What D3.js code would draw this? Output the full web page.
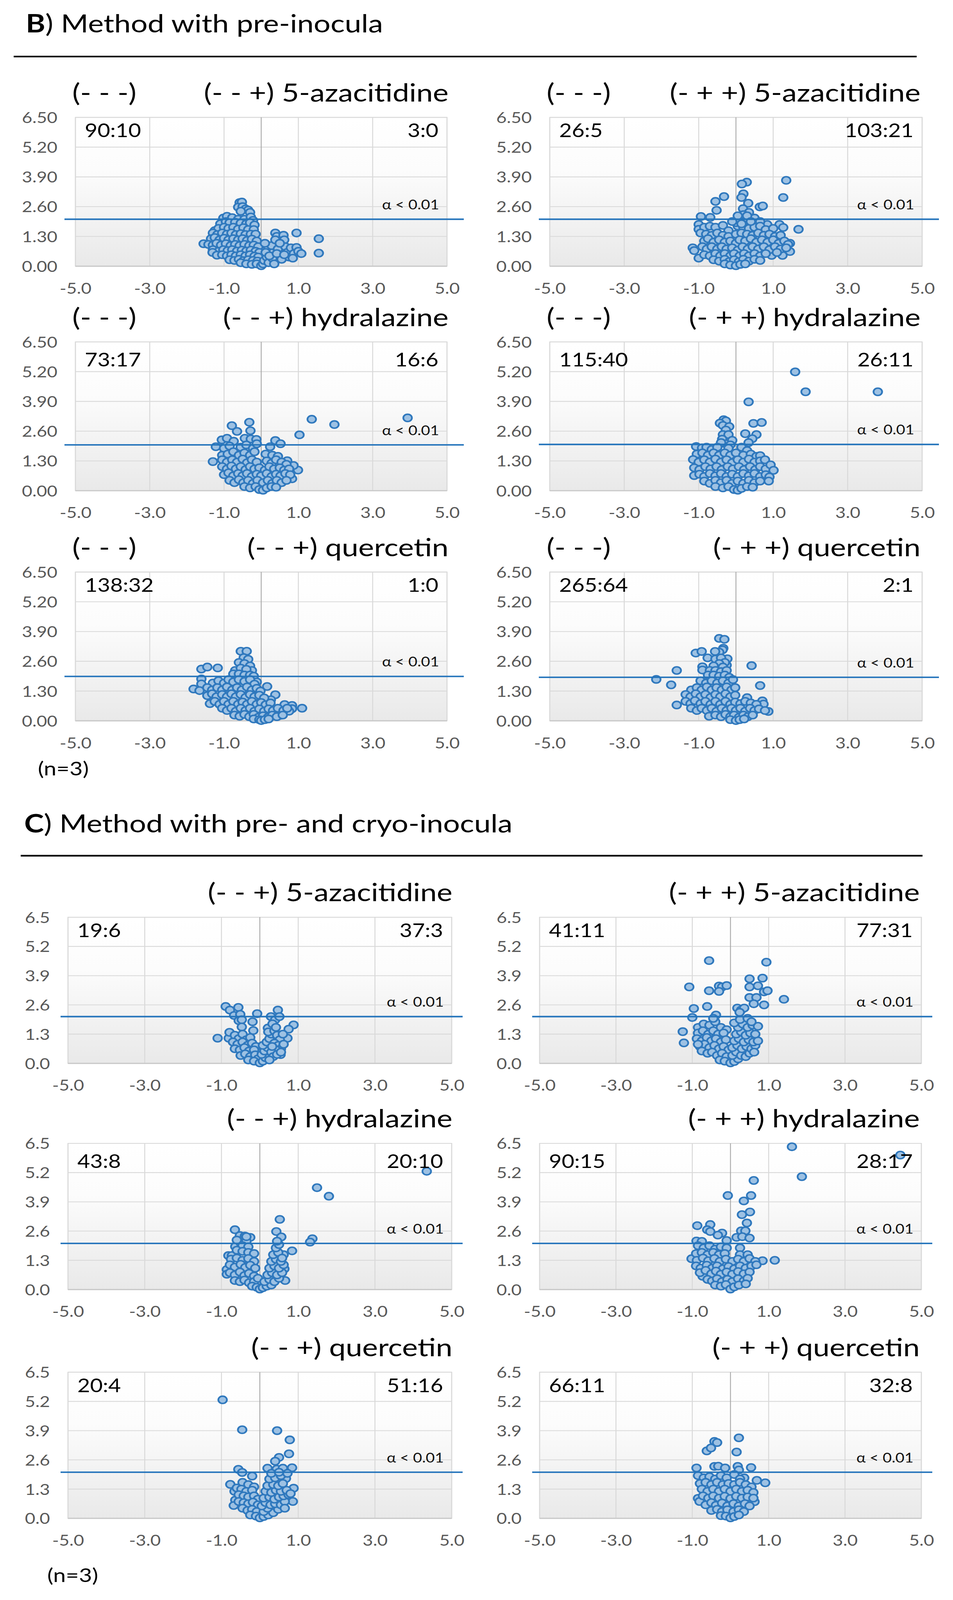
<!DOCTYPE html>
<html><head><meta charset="utf-8">
<script src="https://cdnjs.cloudflare.com/ajax/libs/d3/7.8.5/d3.min.js"></script>
<style>html,body{margin:0;padding:0;background:#fff;overflow:hidden}svg{display:block}</style>
</head><body>
<script>
// ---------------- DATA ----------------
const xTicks = [-5, -3, -1, 1, 3, 5];
const yTicks = [0, 1.3, 2.6, 3.9, 5.2, 6.5];
const sectionLetters = ["B", "C"];
const sectionTitles = [") Method with pre-inocula", ") Method with pre- and cryo-inocula"];
const baseLabel = "(- - -)";
const headers = ["(- - +) 5-azacitidine", "(- + +) 5-azacitidine", "(- - +) hydralazine", "(- + +) hydralazine", "(- - +) quercetin", "(- + +) quercetin"];
const countsB = [["90:10", "3:0"], ["26:5", "103:21"], ["73:17", "16:6"], ["115:40", "26:11"], ["138:32", "1:0"], ["265:64", "2:1"]];
const countsC = [["19:6", "37:3"], ["41:11", "77:31"], ["43:8", "20:10"], ["90:15", "28:17"], ["20:4", "51:16"], ["66:11", "32:8"]];
const alphaB = [2.05, 2.05, 2.0, 2.02, 1.94, 1.9];
const alphaC = [2.08, 2.08, 2.05, 2.05, 2.05, 2.05];
const alphaText = "α < 0.01";
const nText = "(n=3)";

// B) pre-inocula
const ptsB1L = [[-0.58,2.78],[-0.52,2.8],[-0.62,2.58],[-0.5,2.6],[-0.42,2.5],[-0.35,2.45],[-0.55,2.4],[-0.3,2.35],
[-1.02,2.1],[-0.92,2.18],[-0.78,2.12],[-0.62,2.05],[-0.45,2.05],[-0.28,2.15],[-0.22,2.0],
[-1.1,1.85],[-0.95,1.95],[-0.85,1.9],[-0.7,1.92],[-0.55,1.88],[-0.4,1.85],[-0.3,1.9],[-0.18,1.8],
[-1.25,1.55],[-1.15,1.65],[-1.0,1.7],[-0.88,1.65],[-0.75,1.7],[-0.62,1.62],[-0.48,1.68],[-0.35,1.6],[-0.2,1.6],
[-1.3,1.45],[-1.18,1.38],[-1.05,1.45],[-0.92,1.4],[-0.8,1.45],[-0.68,1.38],[-0.55,1.42],[-0.42,1.38],[-0.28,1.4],[-0.15,1.4],
[-1.35,1.2],[-1.25,1.25],[-1.12,1.15],[-1.0,1.22],[-0.88,1.15],[-0.75,1.2],[-0.62,1.15],[-0.5,1.2],[-0.38,1.12],[-0.25,1.18],[-0.12,1.1],
[-1.55,0.98],[-1.42,0.95],[-1.3,0.92],[-1.2,1.0],[-1.08,0.92],[-0.95,0.98],[-0.82,0.9],[-0.7,0.95],[-0.58,0.9],[-0.45,0.95],[-0.32,0.9],[-0.2,0.92],[-0.08,0.85],
[-1.3,0.72],[-1.15,0.65],[-1.02,0.72],[-0.9,0.68],[-0.78,0.72],[-0.65,0.66],[-0.52,0.7],[-0.4,0.66],[-0.28,0.7],[-0.15,0.65],[-0.05,0.6],
[-1.31,0.6],[-1.19,0.48],[-1.05,0.5],[-0.92,0.45],[-0.8,0.5],[-0.68,0.45],[-0.55,0.5],[-0.42,0.45],[-0.3,0.5],[-0.18,0.44],[-0.08,0.4],
[-0.85,0.28],[-0.72,0.25],[-0.6,0.3],[-0.48,0.24],[-0.35,0.28],[-0.22,0.25],[-0.1,0.22],
[-0.55,0.15],[-0.4,0.1],[-0.25,0.08],[-0.12,0.1],[0,0.02],[0.05,0.1],
[0.08,0.25],[0.15,0.4],[0.2,0.15],[0.25,0.6],[0.3,0.35],[0.35,0.1],[0.18,0.85],[0.28,0.9],[0.38,1.45],[0.42,1.3],[0.38,1.15],[0.45,0.75],[0.5,0.5],[0.55,0.3],
[0.6,1.35],[0.62,1.15],[0.65,0.85],[0.7,0.6],[0.75,0.4],[0.8,0.8],[0.88,0.55],[0.95,1.45],[0.95,0.82],[1.0,0.65],[1.08,0.55],[1.55,1.2],[1.55,0.57],
[0.12,0.6],[0.22,0.45],[0.42,0.55],[0.62,0.5],[0.85,0.35],[0.1,1.0],[0.5,1.0]];

const ptsB1R = [[1.35,3.75],[1.27,3.0],[0.29,3.67],[0.16,3.59],[0.2,3.16],[0.15,3.0],[-0.32,3.04],[-0.55,2.83],[-0.52,2.44],[0.33,2.75],[0.19,2.51],[0.64,2.59],[0.72,2.63],
[-0.94,2.17],[-0.69,2.13],[1.68,1.61],[1.17,1.82],[1.27,1.69],[0.84,1.82],[1.45,1.0],[1.45,0.64],[1.25,0.47],[0.96,0.47],[-1.0,0.35],[-1.16,0.8],[-1.12,0.68],[-1.0,1.82],[-1.0,1.61],
[0.35,2.35],[0.25,2.2],[0.5,2.1],[0.65,1.95],[0.2,1.95],[0.1,2.1],[0.3,1.8],
[-0.85,1.7],[-0.7,1.75],[-0.55,1.7],[-0.35,1.78],[-0.2,1.55],[0.05,1.75],[0.2,1.7],[0.35,1.65],[0.5,1.7],[0.65,1.75],[0.8,1.6],[1.0,1.65],
[-0.95,1.45],[-0.8,1.4],[-0.65,1.35],[-0.5,1.45],[-0.35,1.35],[-0.2,1.3],[0.0,1.4],[0.15,1.45],[0.3,1.4],[0.45,1.35],[0.6,1.45],[0.75,1.35],[0.9,1.4],[1.05,1.3],[1.2,1.35],
[-0.85,1.1],[-0.75,1.2],[-0.6,1.05],[-0.45,1.15],[-0.3,1.05],[-0.15,1.1],[0.0,1.0],[0.1,1.15],[0.25,1.1],[0.4,1.2],[0.55,1.05],[0.7,1.15],[0.85,1.05],[1.0,1.15],[1.15,1.0],[1.3,1.1],[1.4,0.95],
[-0.9,0.85],[-0.78,0.75],[-0.65,0.85],[-0.5,0.75],[-0.38,0.85],[-0.25,0.75],[-0.1,0.8],[0.05,0.7],[0.18,0.85],[0.32,0.75],[0.45,0.85],[0.6,0.75],[0.75,0.85],[0.9,0.72],[1.05,0.85],[1.2,0.75],[1.35,0.8],
[-0.85,0.5],[-0.7,0.45],[-0.55,0.55],[-0.42,0.45],[-0.3,0.55],[-0.15,0.45],[-0.05,0.55],[0.1,0.45],[0.22,0.55],[0.35,0.45],[0.5,0.55],[0.65,0.45],[0.8,0.55],[1.1,0.6],
[-0.6,0.28],[-0.45,0.22],[-0.3,0.3],[-0.18,0.2],[-0.05,0.28],[0.08,0.2],[0.2,0.3],[0.35,0.22],[0.5,0.3],[0.65,0.25],
[-0.3,0.1],[-0.15,0.05],[0,0.02],[0.12,0.08],[0.25,0.1],
[0.0,1.9],[0.1,2.0],[0.2,2.25],[0.3,2.2],[0.15,1.85],[0.05,2.2],[0.4,1.95],[-0.1,1.95]];

const ptsB2L = [[3.94,3.18],[1.36,3.12],[1.97,2.89],[1.03,2.44],[-0.32,2.99],[-0.29,2.62],[-0.79,2.84],[-0.65,2.59],[-1.06,2.22],[-0.92,2.29],[-0.74,2.16],[-0.44,2.29],[-0.28,2.26],[-0.13,2.24],
[-1.22,1.92],[-1.3,1.27],[0.38,2.19],[0.52,2.05],[0.24,1.92],[0.99,0.9],[0.87,1.1],[0.83,0.52],[0.7,1.31],
[-1.0,1.85],[-0.85,1.95],[-0.55,1.9],[-0.4,2.0],[-0.22,1.85],[-0.12,2.05],
[-1.05,1.55],[-0.9,1.6],[-0.75,1.7],[-0.6,1.55],[-0.45,1.65],[-0.3,1.55],[-0.18,1.7],[0.12,1.6],[0.3,1.55],[0.45,1.5],
[-1.05,1.35],[-0.92,1.25],[-0.78,1.35],[-0.65,1.25],[-0.5,1.38],[-0.38,1.22],[-0.25,1.35],[-0.12,1.25],[0.15,1.3],[0.28,1.2],[0.4,1.35],[0.55,1.25],[0.68,1.15],
[-1.05,1.05],[-0.92,0.95],[-0.8,1.08],[-0.68,0.95],[-0.55,1.05],[-0.42,0.92],[-0.3,1.05],[-0.18,0.95],[-0.05,1.0],[0.1,0.9],[0.22,1.05],[0.35,0.95],[0.5,1.0],[0.62,0.9],[0.75,0.95],
[-1.0,0.7],[-0.88,0.78],[-0.75,0.65],[-0.62,0.75],[-0.5,0.65],[-0.38,0.75],[-0.25,0.62],[-0.12,0.72],[0.0,0.65],[0.15,0.75],[0.28,0.62],[0.4,0.72],[0.52,0.65],[0.65,0.75],[0.78,0.7],
[-0.85,0.45],[-0.72,0.35],[-0.6,0.48],[-0.48,0.35],[-0.35,0.45],[-0.22,0.32],[-0.1,0.45],[0.05,0.35],[0.18,0.45],[0.3,0.32],[0.42,0.45],[0.55,0.35],[0.68,0.45],
[-0.45,0.18],[-0.3,0.12],[-0.15,0.18],[-0.05,0.05],[0.05,0.02],[0.15,0.12],[0.28,0.18],[0.4,0.15]];

const ptsB2R = [[1.59,5.19],[1.87,4.32],[3.81,4.32],[0.34,3.88],[0.47,2.94],[0.69,2.98],[0.25,2.49],[0.55,2.45],[0.44,2.27],[0.34,2.1],
[-0.33,3.1],[-0.27,3.05],[-0.43,2.95],[-0.35,2.85],[-0.18,2.8],[-0.27,2.65],[-0.35,2.45],[-0.2,2.45],[-0.37,2.25],[-0.1,2.2],[-0.28,2.05],[-0.4,2.1],[-0.15,2.0],
[-1.07,1.93],[-0.91,1.87],[-0.79,1.9],[-0.65,1.8],[-0.5,1.9],[-0.2,1.85],[0.15,1.9],[0.3,1.75],
[-1.05,1.6],[-0.9,1.65],[-0.75,1.55],[-0.6,1.65],[-0.45,1.55],[-0.3,1.65],[-0.15,1.55],[0.0,1.65],[0.2,1.55],[0.4,1.6],[0.55,1.5],[0.65,1.53],
[-1.15,1.36],[-1.0,1.25],[-0.85,1.35],[-0.7,1.25],[-0.55,1.38],[-0.4,1.25],[-0.25,1.35],[-0.1,1.22],[0.05,1.35],[0.2,1.25],[0.35,1.38],[0.5,1.25],[0.65,1.3],[0.78,1.35],
[-1.12,1.0],[-0.98,0.92],[-0.82,1.05],[-0.68,0.95],[-0.52,1.05],[-0.38,0.92],[-0.22,1.05],[-0.08,0.95],[0.08,1.05],[0.22,0.92],[0.38,1.05],[0.52,0.92],[0.65,1.05],[0.8,0.95],[0.93,1.13],[1.01,0.89],
[-1.12,0.66],[-0.98,0.72],[-0.85,0.62],[-0.7,0.75],[-0.55,0.65],[-0.4,0.75],[-0.25,0.62],[-0.1,0.72],[0.05,0.62],[0.2,0.75],[0.35,0.65],[0.5,0.75],[0.65,0.62],[0.8,0.7],[0.9,0.6],
[-0.85,0.42],[-0.7,0.32],[-0.55,0.45],[-0.4,0.35],[-0.25,0.45],[-0.1,0.32],[0.05,0.42],[0.2,0.32],[0.35,0.45],[0.5,0.35],[0.65,0.42],[0.88,0.42],
[-0.55,0.18],[-0.35,0.12],[-0.2,0.18],[-0.05,0.05],[0.05,0.02],[0.15,0.1],[0.3,0.18],[0.45,0.15]];

const ptsB3L = [[-1.82,1.39],[-1.61,2.26],[-1.45,2.35],[-1.17,2.31],[-1.61,1.83],[-1.61,1.61],[-1.66,1.32],[-0.55,3.04],[-0.39,3.04],[-0.47,2.76],[-0.35,2.69],
[0.16,1.5],[0.38,1.14],[0.26,0.92],[0.63,0.71],[0.83,0.67],[0.83,0.53],[1.1,0.55],[0.75,0.42],[0.51,0.24],
[-0.6,2.55],[-0.45,2.5],[-0.3,2.4],[-0.25,2.2],[-0.7,2.2],[-0.55,2.3],[-0.4,2.25],[-0.75,2.05],[-0.6,2.05],[-0.45,2.0],[-0.3,2.0],[-0.2,1.95],[-0.12,1.7],
[-1.3,1.65],[-1.15,1.75],[-1.0,1.65],[-0.88,1.8],[-0.75,1.7],[-0.6,1.8],[-0.45,1.72],[-0.3,1.8],[-0.18,1.6],
[-1.45,1.45],[-1.32,1.35],[-1.18,1.45],[-1.05,1.35],[-0.92,1.48],[-0.78,1.35],[-0.65,1.45],[-0.52,1.35],[-0.38,1.48],[-0.25,1.35],[-0.12,1.42],[-0.02,1.3],
[-1.45,1.1],[-1.32,1.18],[-1.2,1.05],[-1.05,1.15],[-0.92,1.05],[-0.8,1.18],[-0.68,1.05],[-0.55,1.15],[-0.42,1.02],[-0.3,1.15],[-0.18,1.05],[-0.05,1.12],[0.08,1.0],
[-1.38,0.75],[-1.25,0.85],[-1.12,0.72],[-1.0,0.85],[-0.88,0.72],[-0.75,0.85],[-0.62,0.72],[-0.5,0.82],[-0.38,0.72],[-0.25,0.85],[-0.12,0.72],[0.0,0.8],[0.12,0.7],[0.25,0.78],
[-1.05,0.55],[-0.92,0.45],[-0.8,0.55],[-0.68,0.42],[-0.55,0.55],[-0.42,0.45],[-0.3,0.55],[-0.18,0.42],[-0.05,0.52],[0.08,0.42],[0.2,0.52],[0.32,0.45],[0.45,0.55],[0.6,0.45],[0.7,0.55],
[-0.72,0.25],[-0.58,0.2],[-0.45,0.28],[-0.32,0.18],[-0.2,0.28],[-0.08,0.15],[0.05,0.22],[0.18,0.15],[0.3,0.25],[0.42,0.18],[0.58,0.25],
[-0.2,0.08],[-0.05,0.05],[0.0,0.01],[0.1,0.05],[0.2,0.08]];

const ptsB3R = [[-2.14,1.81],[-1.74,1.57],[-1.59,2.2],[-1.59,0.69],[-0.45,3.6],[-0.31,3.56],[-0.34,3.17],[-0.36,3.1],[-0.45,3.0],[-1.08,2.96],[-0.92,3.03],[-0.76,2.75],[-0.56,3.03],[-0.23,2.71],[-0.25,2.43],[-0.9,2.36],[-0.9,2.22],
[0.42,2.41],[0.65,1.54],[0.3,1.01],[0.71,0.87],[0.74,0.73],[0.87,0.41],
[-0.55,2.7],[-0.4,2.75],[-0.3,2.55],[-0.45,2.5],[-0.6,2.4],[-0.35,2.35],[-0.7,2.2],[-0.55,2.2],[-0.4,2.15],[-0.25,2.2],[-0.75,2.0],[-0.6,2.0],[-0.45,1.95],[-0.3,2.0],[-0.18,1.9],
[-0.95,1.75],[-0.8,1.65],[-0.65,1.75],[-0.5,1.65],[-0.35,1.75],[-0.2,1.65],[-0.08,1.8],
[-1.2,1.35],[-1.05,1.45],[-0.92,1.35],[-0.78,1.48],[-0.65,1.35],[-0.52,1.45],[-0.38,1.35],[-0.25,1.48],[-0.12,1.35],[-0.02,1.45],
[-1.35,1.15],[-1.22,1.05],[-1.08,1.18],[-0.95,1.05],[-0.82,1.15],[-0.68,1.02],[-0.55,1.15],[-0.42,1.05],[-0.28,1.18],[-0.15,1.05],[-0.02,1.12],
[-1.35,0.85],[-1.22,0.75],[-1.1,0.88],[-0.95,0.75],[-0.82,0.85],[-0.68,0.72],[-0.55,0.85],[-0.42,0.72],[-0.28,0.85],[-0.15,0.72],[-0.02,0.82],[0.12,0.75],[0.25,0.85],[0.4,0.78],[0.55,0.72],
[-1.2,0.55],[-1.05,0.45],[-0.92,0.55],[-0.78,0.45],[-0.65,0.55],[-0.52,0.42],[-0.38,0.55],[-0.25,0.45],[-0.12,0.55],[0.0,0.45],[0.12,0.55],[0.25,0.42],[0.38,0.55],[0.5,0.45],[0.62,0.52],[0.78,0.45],
[-0.72,0.2],[-0.55,0.25],[-0.4,0.18],[-0.28,0.28],[-0.15,0.18],[-0.05,0.25],[0.08,0.15],[0.2,0.25],[0.32,0.18],[0.45,0.25],
[-0.15,0.05],[0.0,0.01],[0.1,0.05],[0.22,0.08]];

// C) pre- and cryo-inocula
const ptsC1L = [[-1.1,1.12],[-0.89,2.53],[-0.78,2.37],[-0.56,2.49],[-0.67,2.13],[-0.51,2.18],[-0.55,1.9],[-0.47,1.94],[-0.47,1.62],[-0.19,1.85],[-0.07,2.21],[-0.17,1.46],[-0.81,1.12],[-0.79,1.38],
[0.47,2.37],[0.29,2.08],[0.4,1.94],[0.51,2.08],[0.88,1.71],[0.75,1.52],[0.72,1.12],[0.54,0.39],[0.21,1.57],[0.33,1.76],
[-0.65,1.25],[-0.55,1.1],[-0.45,1.3],[-0.35,1.05],[-0.25,1.15],[-0.7,0.95],[-0.58,0.85],[-0.45,0.95],[-0.32,0.8],[-0.2,0.9],[-0.1,0.75],
[-0.65,0.65],[-0.52,0.6],[-0.4,0.7],[-0.28,0.55],[-0.15,0.6],[-0.5,0.35],[-0.38,0.42],[-0.25,0.3],[-0.12,0.38],[-0.05,0.2],[-0.3,0.15],[-0.15,0.1],[0,0.02],
[0.08,0.1],[0.15,0.25],[0.05,0.4],[0.12,0.55],[0.2,0.7],[0.08,0.8],[0.18,0.95],[0.25,1.1],[0.3,1.3],[0.22,1.4],[0.38,1.45],[0.45,1.25],[0.52,1.05],[0.38,0.9],
[0.48,0.8],[0.55,0.65],[0.42,0.6],[0.3,0.5],[0.35,0.3],[0.25,0.15],[0.45,0.4],[0.6,1.3],[0.62,0.85],[0.55,0.5],[0.32,0.75],[0.42,1.6]];

const ptsC1R = [[-0.56,4.57],[0.94,4.5],[-1.08,3.4],[-0.56,3.23],[-0.3,3.44],[-0.22,3.4],[-0.1,3.46],[-0.3,3.2],[0.5,3.76],[0.84,3.79],[0.5,3.4],[0.72,3.45],[0.88,3.18],[0.97,3.23],[1.4,2.85],
[0.5,2.93],[0.68,2.93],[0.61,2.65],[0.88,2.6],[-0.96,2.44],[-0.61,2.53],[-1.0,2.04],[-0.38,2.15],[-1.25,1.41],[-1.22,0.91],[0.18,2.46],[0.28,2.37],[0.36,2.46],[0.24,2.27],
[-0.85,1.6],[-0.7,1.75],[-0.55,1.7],[-0.4,1.85],[-0.25,1.6],[-0.1,1.5],[-0.85,1.35],[-0.72,1.45],[-0.58,1.3],[-0.45,1.45],[-0.32,1.3],[-0.18,1.35],
[-0.88,1.1],[-0.75,1.0],[-0.62,1.15],[-0.5,1.0],[-0.38,1.1],[-0.25,0.95],[-0.12,1.05],[-0.8,0.75],[-0.68,0.85],[-0.55,0.7],[-0.42,0.8],[-0.3,0.65],[-0.18,0.75],[-0.05,0.6],
[-0.75,0.55],[-0.6,0.45],[-0.48,0.5],[-0.35,0.35],[-0.22,0.45],[-0.1,0.3],[-0.28,0.15],[-0.15,0.1],[0,0.02],[0.1,0.08],[0.2,0.2],[0.05,0.35],[0.15,0.5],[0.28,0.35],[0.4,0.3],[0.5,0.45],
[0.05,0.7],[0.18,0.8],[0.3,0.65],[0.42,0.75],[0.55,0.65],[0.65,0.8],[0.1,1.0],[0.22,1.1],[0.35,0.95],[0.48,1.05],[0.6,0.95],[0.72,1.0],
[0.15,1.3],[0.28,1.4],[0.4,1.25],[0.52,1.35],[0.65,1.3],[0.2,1.6],[0.32,1.75],[0.45,1.6],[0.58,1.7],[0.72,1.65],[0.1,1.8],[0.25,1.95],[0.45,2.0],[0.55,1.85],[-0.85,0.85],[0.62,0.5],[-0.45,2.0]];

const ptsC2L = [[4.35,5.26],[1.49,4.53],[1.8,4.15],[0.52,3.12],[0.43,2.58],[0.56,2.34],[1.37,2.26],[1.31,2.11],[0.84,1.72],[-0.65,2.66],[-0.52,2.4],[-0.39,2.38],[-0.25,2.32],[-0.64,1.91],[-0.5,2.08],
[-0.86,0.89],[-0.86,0.68],[-0.82,1.51],[-0.73,1.51],[0.64,0.92],[0.66,0.4],[0.62,1.55],
[-0.35,2.15],[-0.45,1.95],[-0.3,1.9],[-0.6,1.75],[-0.45,1.7],[-0.3,1.65],[-0.15,1.6],[-0.75,1.35],[-0.6,1.4],[-0.45,1.3],[-0.3,1.38],[-0.15,1.25],
[-0.78,1.1],[-0.65,1.0],[-0.5,1.12],[-0.38,0.98],[-0.25,1.08],[-0.12,0.95],[-0.78,0.75],[-0.65,0.65],[-0.52,0.78],[-0.4,0.62],[-0.28,0.72],[-0.15,0.6],
[-0.65,0.4],[-0.52,0.35],[-0.4,0.42],[-0.28,0.3],[-0.15,0.35],[-0.05,0.5],[-0.2,0.15],[-0.08,0.1],[0,0.02],[0.08,0.08],[0.18,0.15],[0.3,0.2],[0.12,0.35],[0.25,0.45],[0.38,0.35],[0.5,0.5],
[0.2,0.65],[0.32,0.75],[0.45,0.65],[0.58,0.75],[0.25,0.95],[0.38,1.05],[0.5,0.95],[0.62,1.1],[0.3,1.25],[0.42,1.35],[0.55,1.25],[0.35,1.55],[0.48,1.65],[0.42,1.85],[0.5,2.0],[0.45,2.15],[0.58,1.4],[-0.35,2.35],[-0.6,2.2]];

const ptsC2R = [[1.61,6.35],[4.45,5.98],[1.87,5.02],[0.61,4.85],[-0.07,4.18],[0.54,4.18],[0.35,3.94],[0.51,3.45],[0.3,3.33],[0.43,2.96],[0.28,2.61],[0.39,2.61],[0.16,2.32],[0.31,2.35],[0.5,2.29],[-0.1,2.18],
[-0.87,2.84],[-0.53,2.89],[-0.61,2.66],[-0.53,2.58],[-0.22,2.51],[-0.33,2.42],[-0.89,2.16],[-0.75,2.14],[-1.02,1.37],[0.84,1.28],[1.16,1.3],[-0.73,0.59],
[-0.85,1.95],[-0.7,1.85],[-0.55,1.95],[-0.4,1.8],[-0.25,1.9],[-0.1,1.85],[0.25,1.85],[-0.9,1.6],[-0.75,1.65],[-0.6,1.55],[-0.45,1.65],[-0.3,1.55],[-0.15,1.6],[0.25,1.55],[0.45,1.55],
[-0.88,1.3],[-0.72,1.4],[-0.58,1.28],[-0.42,1.38],[-0.28,1.25],[-0.12,1.35],[0.05,1.25],[0.2,1.35],[0.35,1.25],[0.5,1.38],[0.65,1.25],
[-0.9,1.05],[-0.78,0.95],[-0.62,1.08],[-0.48,0.95],[-0.35,1.05],[-0.2,0.92],[-0.05,1.02],[0.1,0.92],[0.25,1.05],[0.4,0.95],[0.55,1.05],[0.68,1.1],
[-0.8,0.75],[-0.65,0.85],[-0.5,0.7],[-0.38,0.82],[-0.25,0.68],[-0.1,0.78],[0.05,0.68],[0.2,0.8],[0.35,0.7],[0.5,0.78],
[-0.6,0.45],[-0.48,0.38],[-0.35,0.48],[-0.22,0.35],[-0.08,0.45],[0.05,0.35],[0.2,0.48],[0.35,0.38],[0.45,0.5],
[-0.4,0.2],[-0.25,0.15],[-0.12,0.22],[0,0.02],[0.1,0.12],[0.22,0.2],[0.4,0.25]];

const ptsC3L = [[-0.97,5.27],[-0.46,3.94],[0.45,3.9],[0.78,3.49],[0.76,2.87],[0.5,2.71],[0.4,2.54],[-0.56,2.18],[-0.46,2.04],[0.84,2.25],[0.2,2.23],[0.44,2.19],[0.6,2.23],[-0.2,1.88],
[-0.77,1.51],[-0.66,1.2],[-0.64,0.81],[-0.68,0.57],[0.88,1.34],[0.86,0.75],[0.68,1.77],
[-0.45,1.6],[-0.3,1.5],[-0.15,1.4],[-0.6,1.35],[-0.48,1.3],[-0.35,1.2],[-0.2,1.25],[-0.55,1.05],[-0.42,1.0],[-0.3,0.95],[-0.15,1.0],[-0.05,0.85],
[-0.55,0.75],[-0.42,0.7],[-0.3,0.65],[-0.18,0.72],[-0.05,0.6],[-0.45,0.45],[-0.32,0.35],[-0.2,0.4],[-0.08,0.3],[-0.25,0.15],[-0.1,0.1],[0,0.02],
[0.1,0.08],[0.22,0.15],[0.35,0.25],[0.48,0.4],[0.1,0.3],[0.2,0.45],[0.05,0.55],[0.15,0.7],[0.28,0.6],[0.4,0.65],[0.55,0.6],[0.65,0.75],
[0.1,0.9],[0.25,0.95],[0.38,0.85],[0.5,0.95],[0.62,1.0],[0.75,1.05],[0.15,1.2],[0.3,1.15],[0.42,1.25],[0.55,1.2],[0.7,1.25],
[0.2,1.45],[0.35,1.5],[0.48,1.45],[0.6,1.55],[0.25,1.75],[0.4,1.8],[0.55,1.9],[0.3,2.0],[0.5,2.05],[0.72,2.0],[0.8,1.1],[0.65,0.45]];

const ptsC3R = [[0.22,3.58],[-0.42,3.42],[-0.35,3.37],[-0.62,3.0],[-0.51,3.13],[0.16,2.95],[-0.89,2.24],[-0.42,2.31],[-0.32,2.32],[-0.14,2.24],[0.19,2.31],[0.22,2.15],[0.54,2.26],
[0.91,1.58],[0.69,1.69],[0.36,1.8],[-0.85,0.89],[-0.81,0.75],[0.63,0.74],
[-0.85,1.9],[-0.7,1.8],[-0.55,1.85],[-0.4,1.75],[-0.25,1.9],[-0.1,1.8],[0.1,1.95],[0.25,1.75],
[-0.8,1.55],[-0.65,1.6],[-0.5,1.5],[-0.35,1.6],[-0.2,1.5],[-0.05,1.55],[0.1,1.5],[0.25,1.6],[0.4,1.5],[0.55,1.4],
[-0.75,1.3],[-0.6,1.2],[-0.45,1.3],[-0.3,1.2],[-0.15,1.3],[0,1.2],[0.15,1.3],[0.3,1.2],[0.45,1.25],[0.6,1.15],
[-0.72,1.0],[-0.58,0.9],[-0.45,1.0],[-0.3,0.9],[-0.15,0.98],[0,0.88],[0.15,0.98],[0.3,0.9],[0.45,0.95],[0.6,0.9],
[-0.65,0.6],[-0.5,0.7],[-0.38,0.58],[-0.22,0.68],[-0.08,0.55],[0.08,0.65],[0.22,0.55],[0.38,0.65],[0.5,0.55],
[-0.5,0.35],[-0.35,0.4],[-0.22,0.3],[-0.08,0.38],[0.08,0.3],[0.22,0.38],[0.35,0.3],
[-0.25,0.12],[-0.12,0.1],[0,0.02],[0.1,0.08],[0.22,0.15]];

const pointsB = [ptsB1L, ptsB1R, ptsB2L, ptsB2R, ptsB3L, ptsB3R];
const pointsC = [ptsC1L, ptsC1R, ptsC2L, ptsC2R, ptsC3L, ptsC3R];

// ---------------- LAYOUT ----------------
const W = 2439, H = 4839;
const FONT = "Lato, 'Open Sans', sans-serif";
const sections = [
  {letter: sectionLetters[0], title: sectionTitles[0], titleX: 66, titleY: 98, ruleY: 171, ruleX: [35, 2346],
   cols: [[193, 1144], [1407, 2360]], rows: [355, 1034, 1730], h: 450, fmt: d => d.toFixed(2), base: true,
   counts: countsB, alpha: alphaB, pts: pointsB, nX: 97, nY: 2345, ext: [28, 43], hdrEnd: [1148, 2356]},
  {letter: sectionLetters[1], title: sectionTitles[1], titleX: 62, titleY: 2518, ruleY: 2588, ruleX: [53, 2361],
   cols: [[174, 1156], [1381, 2358]], rows: [2774, 3458, 4150], h: 442, fmt: d => d.toFixed(1), base: false,
   counts: countsC, alpha: alphaC, pts: pointsC, nX: 121, nY: 4785, ext: [19, 28], hdrEnd: [1158, 2354]}
];
const countDy = [60, 74, 60];

// fit the whole figure into whatever viewport the page is given
const vw = window.innerWidth || document.documentElement.clientWidth || W;
const vh = window.innerHeight || document.documentElement.clientHeight || H;

const svg = d3.select("body").append("svg").attr("width", vw).attr("height", vh)
  .attr("viewBox", `0 0 ${W} ${H}`).attr("preserveAspectRatio", "none").style("font-family", FONT);
svg.append("rect").attr("width", W).attr("height", H).attr("fill", "#fff");

const grad = svg.append("defs").append("linearGradient").attr("id", "bg").attr("x1", 0).attr("y1", 0).attr("x2", 0).attr("y2", 1);
grad.append("stop").attr("offset", "0%").attr("stop-color", "#ffffff");
grad.append("stop").attr("offset", "35%").attr("stop-color", "#fcfcfc");
grad.append("stop").attr("offset", "100%").attr("stop-color", "#e9e9e9");

sections.forEach(sec => {
  const t = svg.append("text").attr("x", sec.titleX).attr("y", sec.titleY).attr("font-size", 76).attr("fill", "#000");
  t.append("tspan").attr("font-weight", 700).text(sec.letter);
  t.append("tspan").text(sec.title);
  svg.append("line").attr("x1", sec.ruleX[0]).attr("x2", sec.ruleX[1]).attr("y1", sec.ruleY).attr("y2", sec.ruleY)
    .attr("stroke", "#000").attr("stroke-width", 5);

  sec.rows.forEach((top, r) => {
    sec.cols.forEach((cx, c) => {
      const i = r * 2 + c;
      const g = svg.append("g");
      const x = d3.scaleLinear().domain([-5, 5]).range(cx);
      const y = d3.scaleLinear().domain([0, 6.5]).range([top + sec.h, top]);

      g.append("rect").attr("x", cx[0]).attr("y", top).attr("width", cx[1] - cx[0]).attr("height", sec.h)
        .attr("fill", "url(#bg)").attr("stroke", "#d9d9d9").attr("stroke-width", 2.5);
      g.selectAll(".vg").data(xTicks).join("line").attr("x1", d => x(d)).attr("x2", d => x(d))
        .attr("y1", top).attr("y2", top + sec.h).attr("stroke", "#d9d9d9").attr("stroke-width", 2.5);
      g.selectAll(".hg").data(yTicks).join("line").attr("x1", cx[0]).attr("x2", cx[1])
        .attr("y1", d => y(d)).attr("y2", d => y(d)).attr("stroke", "#d9d9d9").attr("stroke-width", 2.5);
      g.append("line").attr("x1", cx[0]).attr("x2", cx[1]).attr("y1", y(0)).attr("y2", y(0))
        .attr("stroke", "#c8c8c8").attr("stroke-width", 3.5);
      g.append("line").attr("x1", x(0)).attr("x2", x(0)).attr("y1", top).attr("y2", top + sec.h)
        .attr("stroke", "#a6a6a6").attr("stroke-width", 2.2);

      const ya = g.append("g").attr("transform", `translate(${cx[0]},0)`)
        .call(d3.axisLeft(y).tickValues(yTicks).tickFormat(sec.fmt).tickSize(0).tickPadding(46));
      ya.select(".domain").remove();
      ya.selectAll("text").attr("font-size", 46).attr("fill", "#595959").attr("font-family", FONT).attr("dy", "0.36em");
      const xa = g.append("g").attr("transform", `translate(0,${top + sec.h})`)
        .call(d3.axisBottom(x).tickValues(xTicks).tickFormat(d => d.toFixed(1)).tickSize(0));
      xa.select(".domain").remove();
      xa.selectAll("text").attr("font-size", 46).attr("fill", "#595959").attr("font-family", FONT).attr("dy", null).attr("y", 83);

      g.selectAll("circle").data(sec.pts[i]).join("circle")
        .attr("cx", d => x(d[0])).attr("cy", d => y(d[1])).attr("r", 11)
        .attr("fill", "#9dc1e3").attr("stroke", "#2f78bd").attr("stroke-width", 4.5);

      const ay = y(sec.alpha[i]);
      g.append("line").attr("x1", cx[0] - sec.ext[0]).attr("x2", cx[1] + sec.ext[1]).attr("y1", ay).attr("y2", ay)
        .attr("stroke", "#2474bb").attr("stroke-width", 4.5);
      g.append("text").attr("x", cx[1] - 20).attr("y", ay - 30).attr("text-anchor", "end")
        .attr("font-size", 40).attr("fill", "#111").text(alphaText);

      g.append("text").attr("x", cx[0] + 24).attr("y", top + countDy[r]).attr("font-size", 56).attr("fill", "#000").text(sec.counts[i][0]);
      g.append("text").attr("x", cx[1] - 22).attr("y", top + countDy[r]).attr("text-anchor", "end").attr("font-size", 56).attr("fill", "#000").text(sec.counts[i][1]);

      g.append("text").attr("x", sec.hdrEnd[c]).attr("y", top - 48).attr("text-anchor", "end")
        .attr("font-size", 76).attr("fill", "#000").text(headers[i]);
      if (sec.base) {
        g.append("text").attr("x", cx[0] - 8).attr("y", top - 48).attr("font-size", 76).attr("fill", "#000").text(baseLabel);
      }
    });
  });
  svg.append("text").attr("x", sec.nX).attr("y", sec.nY).attr("font-size", 58).attr("fill", "#000").text(nText);
});
</script>
</body></html>
